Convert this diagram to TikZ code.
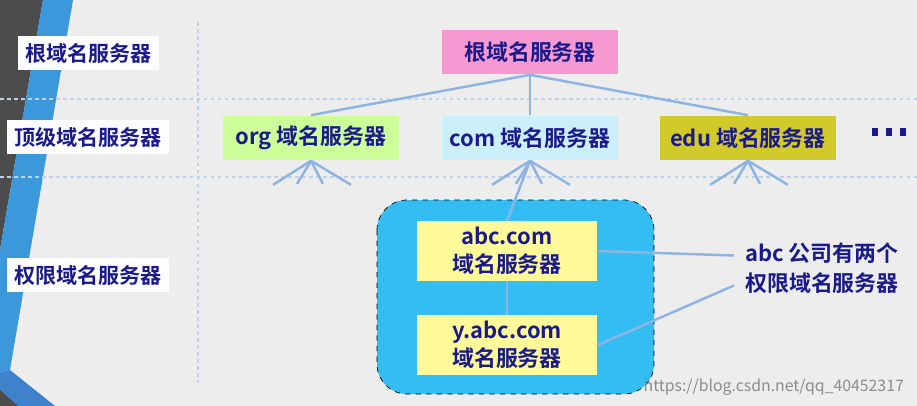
\documentclass[tikz,border=0pt]{standalone}
\usepackage{fontspec}
\setmainfont{Noto Sans CJK SC}[BoldFont={* Bold}]
\usepackage{tikz}
\definecolor{navy}{HTML}{1A1A8C}
\definecolor{link}{HTML}{8DB4E2}
\definecolor{bgray}{HTML}{EDEDED}
\definecolor{orggreen}{HTML}{CCFF99}
\tikzstyle{level} = [fill=white!90!bgray,font=\bfseries\fontsize{12}{14}\selectfont,text=navy,anchor=west,inner sep=4pt]
\tikzstyle{server} = [minimum width=3.54cm,minimum height=0.9cm,font=\bfseries\fontsize{12.5}{15}\selectfont,text=navy]
\tikzstyle{auth} = [fill=yellow!40,minimum width=3.62cm,minimum height=1.1cm,align=center,font=\bfseries\fontsize{12.5}{16}\selectfont,text=navy]
\tikzstyle{wire} = [draw=link,line width=1.4pt]
\tikzstyle{grid} = [draw=link!60,dash pattern=on 2pt off 2pt,line width=0.6pt]
\begin{document}
\begin{tikzpicture}[x=0.02cm,y=-0.02cm]
          \useasboundingbox (0,0) rectangle (917,406);
          \fill[bgray] (0,0) rectangle (917,406);
          % slide border stripes
          \fill[black!70] (0,0) -- (43,0) -- (0,250) -- cycle;
          \fill[cyan!70!blue!80] (43,0) -- (73,0) -- (10,370) -- (0,372) -- (0,250) -- cycle;
          \fill[cyan!50!blue!80] (0,372) -- (10,370) -- (55,406) -- (0,406) -- cycle;
          \fill[black!70] (0,390) -- (18,406) -- (0,406) -- cycle;
          \draw[grid] (198,22) -- (198,383);
          \draw[grid] (0,99) -- (917,99);
          \draw[grid] (0,177) -- (917,177);

          \node[level] (l1) at (18,53) {根域名服务器};
          \node[level] (l2) at (7,137) {顶级域名服务器};
          \node[level] (l3) at (7,275) {权限域名服务器};

          \node[server,fill=magenta!40] (root) at (530,52) {根域名服务器};
          \node[server,fill=orggreen] (org) at (311,138) {org 域名服务器};
          \node[server,fill=cyan!20] (com) at (530,138) {com 域名服务器};
          \node[server,fill=yellow!80!black] (edu) at (748,138) {edu 域名服务器};
          \foreach \x in {872,886,900}
            \fill[navy] (\x,128) rectangle ++(6,8);

          \draw[wire] (root.south) -- (org.north);
          \draw[wire] (root.south) -- (com.north);
          \draw[wire] (root.south) -- (edu.north);
          \foreach \s in {org,com,edu} {
            \draw[wire] (\s.south) -- ++(-38,24);
            \draw[wire] (\s.south) -- ++(-14,23);
            \draw[wire] (\s.south) -- ++(12,23);
            \draw[wire] (\s.south) -- ++(40,24);
          }

          \draw[dashed,fill=cyan!80,rounded corners=0.6cm] (377,200) rectangle (654,394);
          \node[auth] (abc) at (507,251) {abc.com\\域名服务器};
          \node[auth] (yabc) at (507,345) {y.abc.com\\域名服务器};
          \draw[wire] (com.south) -- (abc.north);
          \draw[wire] (abc) -- (yabc);

          \node[align=center,font=\bfseries\fontsize{12.5}{17}\selectfont,text=navy] (note) at (822,268) {abc 公司有两个\\权限域名服务器};
          \coordinate (n1) at ([xshift=-0.1cm,yshift=0.25cm]note.west);
          \coordinate (n2) at ([xshift=-0.1cm,yshift=-0.35cm]note.west);
          \draw[wire] (abc.east) -- (n1);
          \draw[wire] (yabc.east) -- (n2);

          \node[anchor=east,text=black!45,font=\fontsize{9}{10}\selectfont] (mark) at (910,387) {https://blog.csdn.net/qq\_40452317};
        \end{tikzpicture}
\end{document}
